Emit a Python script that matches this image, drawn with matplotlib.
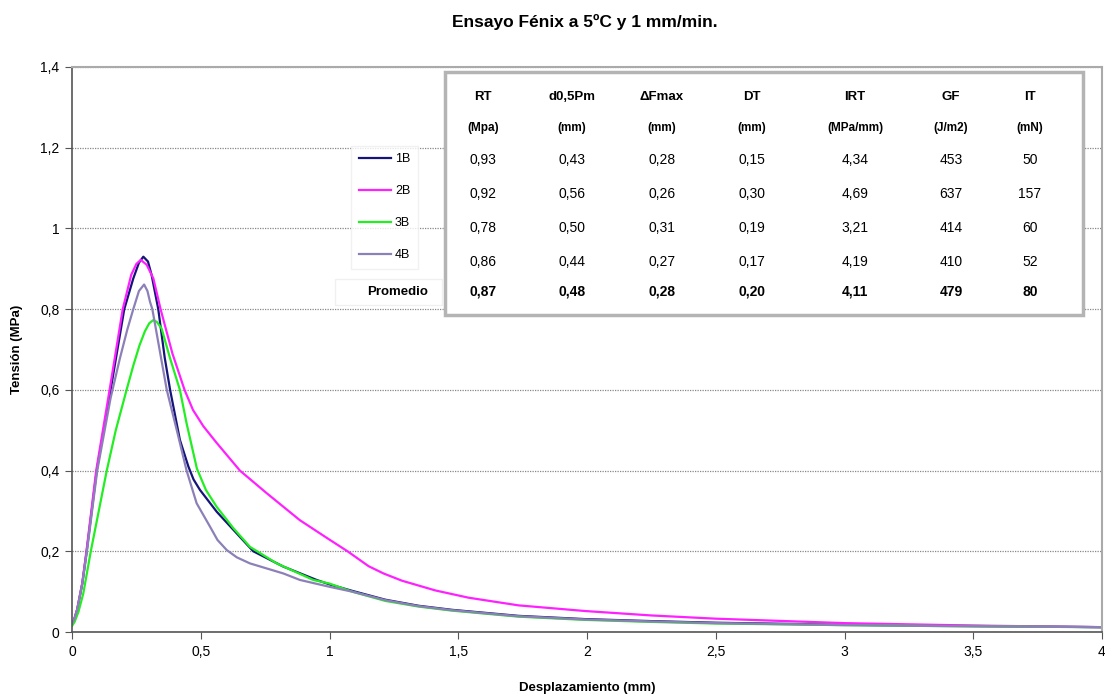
import numpy as np
import matplotlib
matplotlib.use("Agg")
import matplotlib.pyplot as plt
from matplotlib.patches import Rectangle
from matplotlib.ticker import FuncFormatter

plt.rcParams['font.family'] = ['Liberation Sans', 'DejaVu Sans']

# curves (displacement mm, stress MPa)
x_1b = [0, 0.008, 0.02, 0.04, 0.057, 0.096, 0.15, 0.203, 0.238, 0.26, 0.277, 0.295, 0.309, 0.335,
        0.36, 0.381, 0.419, 0.452, 0.472, 0.497, 0.562, 0.627, 0.704, 0.821, 0.95, 1.0, 1.088,
        1.217, 1.346, 1.475, 1.734, 1.992, 2.25, 2.5, 3.0, 3.5, 4.0]
y_1b = [0.021, 0.03, 0.055, 0.12, 0.2, 0.4, 0.6, 0.8, 0.876, 0.915, 0.93, 0.918, 0.885, 0.8,
        0.68, 0.6, 0.476, 0.41, 0.378, 0.352, 0.298, 0.253, 0.2, 0.162, 0.129, 0.118, 0.102,
        0.08, 0.065, 0.055, 0.04, 0.032, 0.027, 0.023, 0.018, 0.015, 0.012]

x_2b = [0, 0.008, 0.02, 0.04, 0.056, 0.094, 0.146, 0.197, 0.23, 0.25, 0.267, 0.29, 0.316, 0.344,
        0.39, 0.437, 0.47, 0.51, 0.56, 0.652, 0.756, 0.885, 1.002, 1.07, 1.152, 1.21, 1.282,
        1.411, 1.54, 1.734, 1.992, 2.25, 2.5, 3.0, 3.5, 4.0]
y_2b = [0.021, 0.03, 0.056, 0.122, 0.2, 0.4, 0.6, 0.8, 0.885, 0.912, 0.922, 0.91, 0.876, 0.8,
        0.69, 0.6, 0.55, 0.51, 0.47, 0.4, 0.344, 0.277, 0.228, 0.2, 0.163, 0.145, 0.127,
        0.103, 0.085, 0.066, 0.052, 0.041, 0.033, 0.022, 0.016, 0.012]

x_3b = [0, 0.01, 0.025, 0.044, 0.073, 0.135, 0.17, 0.212, 0.238, 0.262, 0.283, 0.3, 0.316, 0.33,
        0.348, 0.381, 0.419, 0.445, 0.485, 0.52, 0.562, 0.627, 0.691, 0.795, 0.937, 1.0, 1.088,
        1.217, 1.346, 1.475, 1.734, 1.992, 2.25, 2.5, 3.0, 3.5, 4.0]
y_3b = [0.015, 0.025, 0.05, 0.096, 0.2, 0.4, 0.5, 0.6, 0.66, 0.71, 0.745, 0.765, 0.773, 0.768,
        0.752, 0.678, 0.6, 0.517, 0.405, 0.352, 0.31, 0.257, 0.211, 0.17, 0.129, 0.12, 0.1,
        0.077, 0.063, 0.053, 0.038, 0.03, 0.025, 0.021, 0.017, 0.014, 0.012]

x_4b = [0, 0.008, 0.02, 0.04, 0.058, 0.098, 0.15, 0.186, 0.215, 0.238, 0.26, 0.28, 0.293, 0.303,
        0.312, 0.34, 0.368, 0.407, 0.445, 0.484, 0.536, 0.565, 0.601, 0.64, 0.691, 0.821, 0.885,
        1.0, 1.088, 1.217, 1.346, 1.475, 1.734, 1.992, 2.25, 2.5, 3.0, 3.5, 4.0]
y_4b = [0.021, 0.03, 0.055, 0.12, 0.2, 0.4, 0.58, 0.678, 0.75, 0.8, 0.845, 0.861, 0.845, 0.818,
        0.8, 0.7, 0.6, 0.5, 0.4, 0.319, 0.261, 0.228, 0.203, 0.185, 0.17, 0.145, 0.129,
        0.112, 0.1, 0.079, 0.064, 0.054, 0.039, 0.031, 0.026, 0.022, 0.017, 0.014, 0.012]

# results table
headers = ['RT', 'd0,5Pm', '\u0394Fmax', 'DT', 'IRT', 'GF', 'IT']
units = ['(Mpa)', '(mm)', '(mm)', '(mm)', '(MPa/mm)', '(J/m2)', '(mN)']
rt = [0.93, 0.92, 0.78, 0.86, 0.87]
d05pm = [0.43, 0.56, 0.50, 0.44, 0.48]
dfmax = [0.28, 0.26, 0.31, 0.27, 0.28]
dt = [0.15, 0.30, 0.19, 0.17, 0.20]
irt = [4.34, 4.69, 3.21, 4.19, 4.11]
gf = [453, 637, 414, 410, 479]
it = [50, 157, 60, 52, 80]

W, H = 1105, 695
fig = plt.figure(figsize=(W / 100, H / 100), dpi=100)
ax = fig.add_axes([72 / W, 1 - 632 / H, 1030 / W, 565 / H])

ax.plot(x_1b, y_1b, color='#14147a', lw=1.6, label='1B')
ax.plot(x_2b, y_2b, color='#ff20ff', lw=1.6, label='2B')
ax.plot(x_3b, y_3b, color='#22ee22', lw=1.6, label='3B')
ax.plot(x_4b, y_4b, color='#8c80b8', lw=1.6, label='4B')

ax.set_xlim(0, 4)
ax.set_ylim(0, 1.4)
ax.set_xticks(np.arange(0, 4.01, 0.5))
ax.set_yticks(np.arange(0, 1.41, 0.2))
comma = FuncFormatter(lambda v, p: ('%g' % round(v, 2)).replace('.', ','))
ax.xaxis.set_major_formatter(comma)
ax.yaxis.set_major_formatter(comma)
ax.tick_params(direction='out', length=5, labelsize=10, color='#555555', pad=4)
ax.yaxis.grid(True, linestyle=(0, (1, 1)), color='#888888', lw=0.9)
ax.set_axisbelow(True)
for s in ['left', 'bottom']:
    ax.spines[s].set_color('#555555')
    ax.spines[s].set_linewidth(1.2)
for s in ['top', 'right']:
    ax.spines[s].set_color('#aaaaaa')
    ax.spines[s].set_linewidth(1.5)

ax.set_xlabel('Desplazamiento (mm)', fontsize=9.5, fontweight='bold', labelpad=17)
ax.set_ylabel('Tensi\u00f3n (MPa)', fontsize=9.5, fontweight='bold', labelpad=12)
fig.text(585 / W, 1 - 22 / H, 'Ensayo F\u00e9nix a 5\u00baC y 1 mm/min.', ha='center', va='center',
         fontsize=12.5, fontweight='bold')

leg = ax.legend(loc='upper left', bbox_to_anchor=(0.265, 0.872), fontsize=9, frameon=True,
                handlelength=2.6, handletextpad=0.3, labelspacing=1.6, borderpad=0.6,
                fancybox=False, edgecolor='#eeeeee')
leg.get_frame().set_linewidth(1.0)

# table box
def fx(px):
    return px / W

def fy(py):
    return 1 - py / H

fig.patches.append(Rectangle((fx(445), fy(315)), fx(1083) - fx(445), fy(72) - fy(315),
                             transform=fig.transFigure, facecolor='white', edgecolor='#b4b4b4',
                             lw=2.5, zorder=5))
fig.patches.append(Rectangle((fx(335), fy(305)), fx(442) - fx(335), fy(279) - fy(305),
                             transform=fig.transFigure, facecolor='white', edgecolor='#f0f0f0',
                             lw=1.0, zorder=5))

col_x = [483, 572, 662, 752, 855, 951, 1030]
row_y = [160, 194, 228, 262, 292]
for j, (h, u) in enumerate(zip(headers, units)):
    fig.text(fx(col_x[j]), fy(97), h, ha='center', va='center', fontsize=9.5, fontweight='bold', zorder=6)
    fig.text(fx(col_x[j]), fy(128), u, ha='center', va='center', fontsize=8.5, fontweight='bold', zorder=6)

cols = [rt, d05pm, dfmax, dt, irt, gf, it]
for j, col in enumerate(cols):
    for i, v in enumerate(col):
        s = ('%.2f' % v).replace('.', ',') if isinstance(v, float) else str(v)
        fig.text(fx(col_x[j]), fy(row_y[i]), s, ha='center', va='center', fontsize=10,
                 fontweight='bold' if i == 4 else 'normal', zorder=6)
fig.text(fx(398), fy(292), 'Promedio', ha='center', va='center', fontsize=9.5, fontweight='bold', zorder=6)

fig.savefig('out.png', dpi=100)
